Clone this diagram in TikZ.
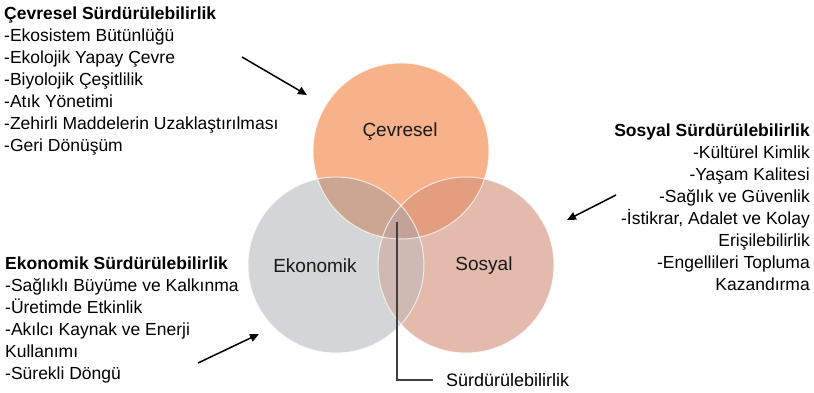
\documentclass[tikz,border=0pt]{standalone}
\usepackage{fontspec}
\setmainfont{Liberation Sans}
\usetikzlibrary{arrows.meta}
\definecolor{cvc}{HTML}{F7B28A}
\definecolor{ekc}{HTML}{D3D5D6}
\definecolor{soc}{HTML}{E4BAAD}
\definecolor{cvek}{HTML}{CDA692}
\definecolor{cvso}{HTML}{E29E7F}
\definecolor{ekso}{HTML}{CFB9B3}
\definecolor{allc}{HTML}{C2A299}
\begin{document}
\begin{tikzpicture}[x=1pt,y=-1pt,
  listtext/.style={inner sep=0pt, font=\fontsize{17.5}{22}\selectfont, text=black},
  circlabel/.style={inner sep=0pt, font=\fontsize{19}{23}\selectfont, text=black!90},
  pointer/.style={line width=1.5pt, draw=black, -{Triangle[length=9pt,width=8pt]}},
  leader/.style={line width=1.4pt, draw=black!75},
  rim/.style={draw=white, line width=1pt, draw opacity=0.7},
  disc/.style={radius=88pt}
]
\fill[white] (0,0) rectangle (814,393);
\useasboundingbox (0,0) rectangle (814,393);

\coordinate (cv) at (401,151);
\coordinate (ek) at (336,265);
\coordinate (so) at (466,265);

% circles
\fill[cvc] (cv) circle[disc];
\fill[ekc] (ek) circle[disc];
\fill[soc] (so) circle[disc];
\begin{scope}
  \clip (cv) circle[disc];
  \fill[cvek] (ek) circle[disc];
  \fill[cvso] (so) circle[disc];
\end{scope}
\begin{scope}
  \clip (ek) circle[disc];
  \fill[ekso] (so) circle[disc];
\end{scope}
\begin{scope}
  \clip (cv) circle[disc];
  \clip (ek) circle[disc];
  \fill[allc] (so) circle[disc];
\end{scope}
\draw[rim] (cv) circle[disc];
\draw[rim] (ek) circle[disc];
\draw[rim] (so) circle[disc];

% circle labels
\node[circlabel] (cvlab) at (400,132) {Çevresel};
\node[circlabel] (eklab) at (315,266) {Ekonomik};
\node[circlabel] (solab) at (484,266) {Sosyal};

% text blocks
\node[listtext, anchor=north west, align=left] (cvlist) at (4,6.5)
  {\textbf{Çevresel Sürdürülebilirlik}\\-Ekosistem Bütünlüğü\\-Ekolojik Yapay Çevre\\-Biyolojik Çeşitlilik\\-Atık Yönetimi\\-Zehirli Maddelerin Uzaklaştırılması\\-Geri Dönüşüm};
\node[listtext, anchor=north east, align=right] (solist) at (810,123.5)
  {\textbf{Sosyal Sürdürülebilirlik}\\-Kültürel Kimlik\\-Yaşam Kalitesi\\-Sağlık ve Güvenlik\\-İstikrar, Adalet ve Kolay\\Erişilebilirlik\\-Engellileri Topluma\\Kazandırma};
\node[listtext, anchor=north west, align=left] (eklist) at (5,256.5)
  {\textbf{Ekonomik Sürdürülebilirlik}\\-Sağlıklı Büyüme ve Kalkınma\\-Üretimde Etkinlik\\-Akılcı Kaynak ve Enerji\\Kullanımı\\-Sürekli Döngü};

% arrows
\coordinate (a1s) at (242,57);  \coordinate (a1e) at (307,95);
\coordinate (a2s) at (616,195); \coordinate (a2e) at (567,220);
\coordinate (a3s) at (198,363); \coordinate (a3e) at (259,334);
\draw[pointer] (a1s) -- (a1e);
\draw[pointer] (a2s) -- (a2e);
\draw[pointer] (a3s) -- (a3e);

% Sürdürülebilirlik leader
\node[listtext, anchor=west, font=\fontsize{18}{22}\selectfont] (sd) at (446,380) {Sürdürülebilirlik};
\coordinate (lt) at (397,222);
\draw[leader] (lt) |- ([xshift=-13pt]sd.west);
\end{tikzpicture}
\end{document}
